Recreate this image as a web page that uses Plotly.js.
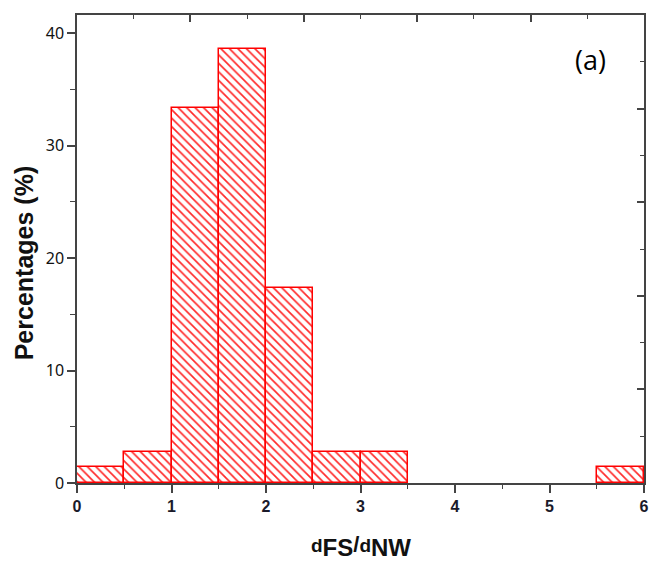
<!DOCTYPE html>
<html>
<head>
<meta charset="utf-8">
<script src="https://cdn.plot.ly/plotly-3.0.1.min.js"></script>
<style>html,body{margin:0;padding:0;background:#fff;}#chart{width:651px;height:563px;}</style>
</head>
<body>
<div id="chart"></div>
<script>
// Histogram bins of d_FS/d_NW (left edges) and percentages
var binStart = [0, 0.5, 1.0, 1.5, 2.0, 2.5, 3.0, 3.5, 4.0, 4.5, 5.0, 5.5];
var binWidth = 0.5;
var percentages = [1.4, 2.8, 33.3, 38.6, 17.3, 2.8, 2.8, 0, 0, 0, 0, 1.4];
var xTickVals = [0, 1, 2, 3, 4, 5, 6];
var yTickVals = [0, 10, 20, 30, 40];
var xTitle = '<b>d<sub><span style="font-size:24px">FS</span></sub><span style="font-size:22px">/</span>d<sub><span style="font-size:24px">NW</span></sub></b>';
var yTitle = '<b>Percentages (%)</b>';
var panelLabel = '(a)';

var centers = binStart.map(function (s) { return s + binWidth / 2; });
var shown = percentages.map(function (v) { return v > 0 ? v : null; });

var traces = [{
  type: 'bar',
  x: centers,
  y: shown,
  width: binWidth,
  marker: {
    color: 'rgba(0,0,0,0)',
    line: { color: '#ff0000', width: 1.5 },
    pattern: { shape: '\\', fgcolor: '#ff2a2a', bgcolor: '#ffffff', size: 6, solidity: 0.28, fillmode: 'replace' }
  },
  hoverinfo: 'x+y',
  showlegend: false
}];

var axisColor = '#444444';
var layout = {
  width: 651, height: 563,
  margin: { l: 77, r: 7, t: 15, b: 80 },
  paper_bgcolor: '#ffffff', plot_bgcolor: '#ffffff',
  bargap: 0,
  showlegend: false,
  xaxis: {
    range: [0, 6], showgrid: false, zeroline: false,
    showline: true, linecolor: axisColor, linewidth: 1.5,
    ticks: 'outside', ticklen: 8, tickwidth: 1.5, tickcolor: axisColor,
    tickvals: xTickVals,
    ticktext: xTickVals.map(function (v) { return '<b>' + v + '</b>'; }),
    tickfont: { family: 'Liberation Sans Narrow, Liberation Sans, Arial, sans-serif', size: 16, color: '#1a1a2a' },
    minor: { dtick: 0.5, ticks: 'outside', ticklen: 4, tickwidth: 1.2, tickcolor: axisColor, showgrid: false },
    fixedrange: true
  },
  yaxis: {
    range: [0, 41.6], showgrid: false, zeroline: false,
    showline: true, linecolor: axisColor, linewidth: 1.5,
    ticks: 'outside', ticklen: 8, tickwidth: 1.5, tickcolor: axisColor,
    tickvals: yTickVals,
    tickfont: { family: 'Noto Sans, Open Sans, sans-serif', size: 16, color: '#111111' },
    minor: { dtick: 5, ticks: 'outside', ticklen: 5, tickwidth: 1.2, tickcolor: axisColor, showgrid: false },
    fixedrange: true
  },
  xaxis2: {
    overlaying: 'x', side: 'top', range: [0, 10], showgrid: false, zeroline: false,
    showline: true, linecolor: axisColor, linewidth: 1.5,
    ticks: 'inside', ticklen: 7, tickwidth: 1.5, tickcolor: axisColor, dtick: 2, showticklabels: false,
    minor: { dtick: 1, ticks: 'inside', ticklen: 4, tickwidth: 1.2, tickcolor: axisColor, showgrid: false },
    fixedrange: true
  },
  yaxis2: {
    overlaying: 'y', side: 'right', range: [0, 10], showgrid: false, zeroline: false,
    showline: true, linecolor: axisColor, linewidth: 1.5,
    ticks: 'inside', ticklen: 7, tickwidth: 1.5, tickcolor: axisColor, dtick: 2, showticklabels: false,
    minor: { dtick: 1, ticks: 'inside', ticklen: 4, tickwidth: 1.2, tickcolor: axisColor, showgrid: false },
    fixedrange: true
  },
  annotations: [{
    text: panelLabel, xref: 'paper', yref: 'paper', x: 0.905, y: 0.905,
    xanchor: 'center', yanchor: 'middle', showarrow: false,
    font: { family: 'Open Sans, Noto Sans, sans-serif', size: 27, color: '#000000' }
  }, {
    text: yTitle, xref: 'paper', yref: 'paper', x: -0.093, y: 0.47,
    xanchor: 'center', yanchor: 'middle', textangle: -90, showarrow: false,
    font: { family: 'Liberation Sans, Arial, sans-serif', size: 25, color: '#111111' }
  }, {
    text: xTitle, xref: 'paper', yref: 'paper', x: 0.5, y: -0.135,
    xanchor: 'center', yanchor: 'middle', showarrow: false,
    font: { family: 'Liberation Sans, Arial, sans-serif', size: 19, color: '#111111' }
  }]
};

// dummy trace to activate the mirrored frame axes
traces.push({ type: 'scatter', x: [null], y: [null], xaxis: 'x2', yaxis: 'y2', hoverinfo: 'skip', showlegend: false });

Plotly.newPlot('chart', traces, layout, { displayModeBar: false });
</script>
</body>
</html>
